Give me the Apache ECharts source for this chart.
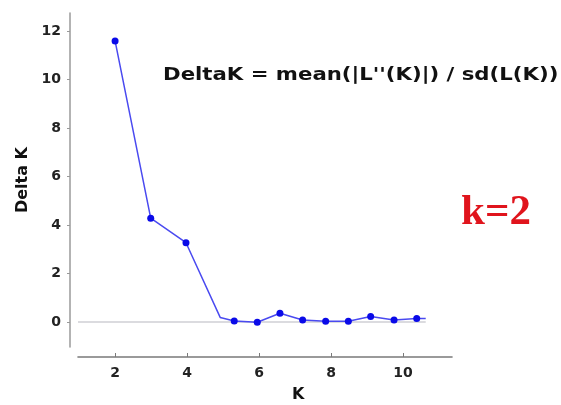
<!DOCTYPE html>
<html>
<head>
<meta charset="utf-8">
<script src="https://cdn.jsdelivr.net/npm/echarts@6/dist/echarts.min.js"></script>
<style>html,body{margin:0;padding:0;background:#fff;}#c{width:561px;height:405px;}</style>
</head>
<body>
<div id="c"></div>
<script>
// Data
const kValues = [2, 2.99, 3.97, 4.92, 5.31, 5.95, 6.58, 7.21, 7.85, 8.48, 9.10, 9.75, 10.38, 10.63];
const deltaK  = [11.59, 4.28, 3.27, 0.19, 0.04, -0.01, 0.36, 0.08, 0.03, 0.03, 0.23, 0.08, 0.15, 0.14];
const unmarkedIdx = [3, 13];
const baselineK = [0.97, 10.63];
const baselineY = [0, 0];
const xTicks = [2, 4, 6, 8, 10];
const yTicks = [0, 2, 4, 6, 8, 10, 12];
const xRange = [0.97, 11.36];
const yRange = [-1.03, 12.74];
const formulaText = "DeltaK = mean(|L''(K)|) / sd(L(K))";
const annotText = "k=2";
const xName = "K";
const yName = "Delta K";

const chart = echarts.init(document.getElementById('c'), null, {renderer: 'canvas'});
const font = '"DejaVu Sans", Verdana, sans-serif';
chart.setOption({
  animation: false,
  backgroundColor: '#fff',
  grid: {left: 78, right: 109, top: 13, bottom: 58},
  xAxis: {
    type: 'value', min: xRange[0], max: xRange[1], offset: 10,
    splitLine: {show: false},
    axisLine: {onZero: false, lineStyle: {color: '#7a7a7a', width: 1.6}},
    axisTick: {customValues: xTicks, inside: true, length: 4, lineStyle: {color: '#7a7a7a'}},
    axisLabel: {customValues: xTicks, margin: 9, color: '#222', fontFamily: font, fontWeight: 'bold', fontSize: 14}
  },
  yAxis: {
    type: 'value', min: yRange[0], max: yRange[1], offset: 8,
    name: yName, nameLocation: 'middle', nameGap: 36, nameRotate: 90,
    nameTextStyle: {color: '#111', fontFamily: font, fontWeight: 'bold', fontSize: 16},
    splitLine: {show: false},
    axisLine: {onZero: false, lineStyle: {color: '#a0a0a0', width: 1.6}},
    axisTick: {customValues: yTicks, length: 3, lineStyle: {color: '#999'}},
    axisLabel: {customValues: yTicks, margin: 9, color: '#222', fontFamily: font, fontWeight: 'bold', fontSize: 14}
  },
  graphic: [
    {type: 'text', x: 163, y: 66, scaleX: 1.18, style: {text: formulaText, fill: '#111', font: '600 18px ' + font}},
    {type: 'text', left: 461, top: 191, style: {text: annotText, fill: '#e0141c', font: 'bold 43px "Liberation Serif", "Times New Roman", serif'}},
    {type: 'text', left: 292, top: 387, style: {text: xName, fill: '#111', font: 'bold 16px ' + font}}
  ],
  series: [
    {
      type: 'line', silent: true, symbol: 'none',
      data: baselineK.map((k, i) => [k, baselineY[i]]),
      lineStyle: {color: '#b8b8c0', width: 1.2}, z: 1
    },
    {
      type: 'line', silent: true,
      data: kValues.map((k, i) => ({
        value: [k, deltaK[i]],
        symbol: unmarkedIdx.includes(i) ? 'none' : 'circle'
      })),
      symbolSize: 7,
      itemStyle: {color: '#0a0ae8'},
      lineStyle: {color: '#4a4af0', width: 1.5}, z: 2
    }
  ]
});
</script>
</body>
</html>
